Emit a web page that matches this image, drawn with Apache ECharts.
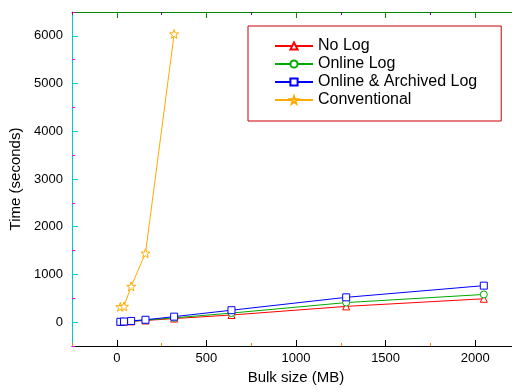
<!DOCTYPE html>
<html>
<head>
<meta charset="utf-8">
<script src="https://cdn.jsdelivr.net/npm/echarts@6/dist/echarts.min.js"></script>
<style>html,body{margin:0;padding:0;background:#fff;}#c{width:512px;height:392px;}</style>
</head>
<body>
<div id="c"></div>
<script>
var sizes = [20, 40, 80, 160, 320, 640, 1280, 2048];
var noLog = [4, 8, 17, 35, 75, 150, 330, 490];
var onlineLog = [5, 10, 20, 42, 90, 190, 410, 580];
var archivedLog = [7, 13, 25, 50, 115, 250, 520, 765];
var convSizes = [20, 40, 80, 160, 320];
var conventional = [322, 330, 748, 1445, 6040];
var seriesNames = ['No Log', 'Online Log', 'Online & Archived Log', 'Conventional'];
var xMajor = [0, 500, 1000, 1500, 2000];
var xMinor = [-250, 250, 750, 1250, 1750, 2250];
var yMajor = [0, 1000, 2000, 3000, 4000, 5000, 6000];
var yMinor = [-500, 500, 1500, 2500, 3500, 4500, 5500, 6500];

function pairs(xs, ys) { return xs.map(function (x, i) { return [x, ys[i]]; }); }

var STAR = 'path://M0,-10 L2.35,-3.24 9.51,-3.09 3.8,1.24 5.88,8.09 0,4 -5.88,8.09 -3.8,1.24 -9.51,-3.09 -2.35,-3.24 Z';
var font = '"Liberation Sans", Arial, sans-serif';
function plain(v) { return String(v); }

function xAx(grid, pos, ticks, len, showLine, showLabel, name, col) {
  return {
    type: 'value', gridIndex: grid, position: pos, min: -250, max: 2250,
    axisLine: { show: showLine, onZero: false, lineStyle: { color: col, width: 1 } },
    axisTick: { show: true, inside: true, length: len, customValues: ticks, lineStyle: { color: col, width: 1 } },
    axisLabel: { show: showLabel, customValues: xMajor, formatter: plain, color: '#000', fontSize: 13, fontFamily: font, margin: 6 },
    splitLine: { show: false },
    name: name || '', nameLocation: 'middle', nameGap: 23,
    nameTextStyle: { color: '#000', fontSize: 15, fontFamily: font }
  };
}
function yAx(grid, ticks, len, showLine, showLabel, name, col) {
  return {
    type: 'value', gridIndex: grid, position: 'left', min: -500, max: 6500,
    axisLine: { show: showLine, onZero: false, lineStyle: { color: col, width: 1 } },
    axisTick: { show: true, inside: true, length: len, customValues: ticks, lineStyle: { color: col, width: 1 } },
    axisLabel: { show: showLabel, customValues: yMajor, formatter: plain, color: '#000', fontSize: 13, fontFamily: font, margin: 9 },
    splitLine: { show: false },
    name: name || '', nameLocation: 'middle', nameGap: 46,
    nameTextStyle: { color: '#000', fontSize: 15, fontFamily: font }
  };
}

function ser(name, data, symbol, size, col) {
  return {
    name: name, type: 'line', data: data, symbol: symbol, symbolSize: size,
    xAxisIndex: 0, yAxisIndex: 0,
    lineStyle: { color: col, width: 1 },
    itemStyle: { color: '#fff', borderColor: col, borderWidth: 1 },
    emphasis: { disabled: true }, animation: false
  };
}

var gridBox = { left: 72, top: 12, width: 448, height: 334, containLabel: false, outerBoundsMode: 'none' };
var chart = echarts.init(document.getElementById('c'), null, { renderer: 'canvas' });
chart.setOption({
  animation: false,
  backgroundColor: '#fff',
  grid: [Object.assign({}, gridBox), Object.assign({}, gridBox)],
  xAxis: [
    xAx(0, 'bottom', xMajor, 6, true, true, 'Bulk size (MB)', '#000'),
    xAx(0, 'top', xMajor, 6, true, false, '', '#080'),
    xAx(1, 'bottom', xMinor, 3, false, false, '', '#f80'),
    xAx(1, 'top', xMinor, 3, false, false, '', '#808')
  ],
  yAxis: [
    yAx(0, yMajor, 6, true, true, 'Time (seconds)', '#0cc'),
    yAx(1, yMinor, 3, false, false, '', '#f0f')
  ],
  legend: {
    left: 248, top: 26, orient: 'vertical',
    data: seriesNames,
    itemWidth: 38, itemHeight: 9, itemGap: 2,
    borderColor: '#c00', borderWidth: 1, borderRadius: 0,
    padding: [12, 24, 13, 26],
    textStyle: { color: '#000', fontSize: 16, fontFamily: font },
    selectedMode: false
  },
  series: [
    ser(seriesNames[0], pairs(sizes, noLog), 'triangle', 7, '#f00'),
    ser(seriesNames[1], pairs(sizes, onlineLog), 'circle', 7, '#0a0'),
    ser(seriesNames[2], pairs(sizes, archivedLog), 'rect', 7, '#00f'),
    ser(seriesNames[3], pairs(convSizes, conventional), STAR, 9, '#fa0')
  ]
});
</script>
</body>
</html>
